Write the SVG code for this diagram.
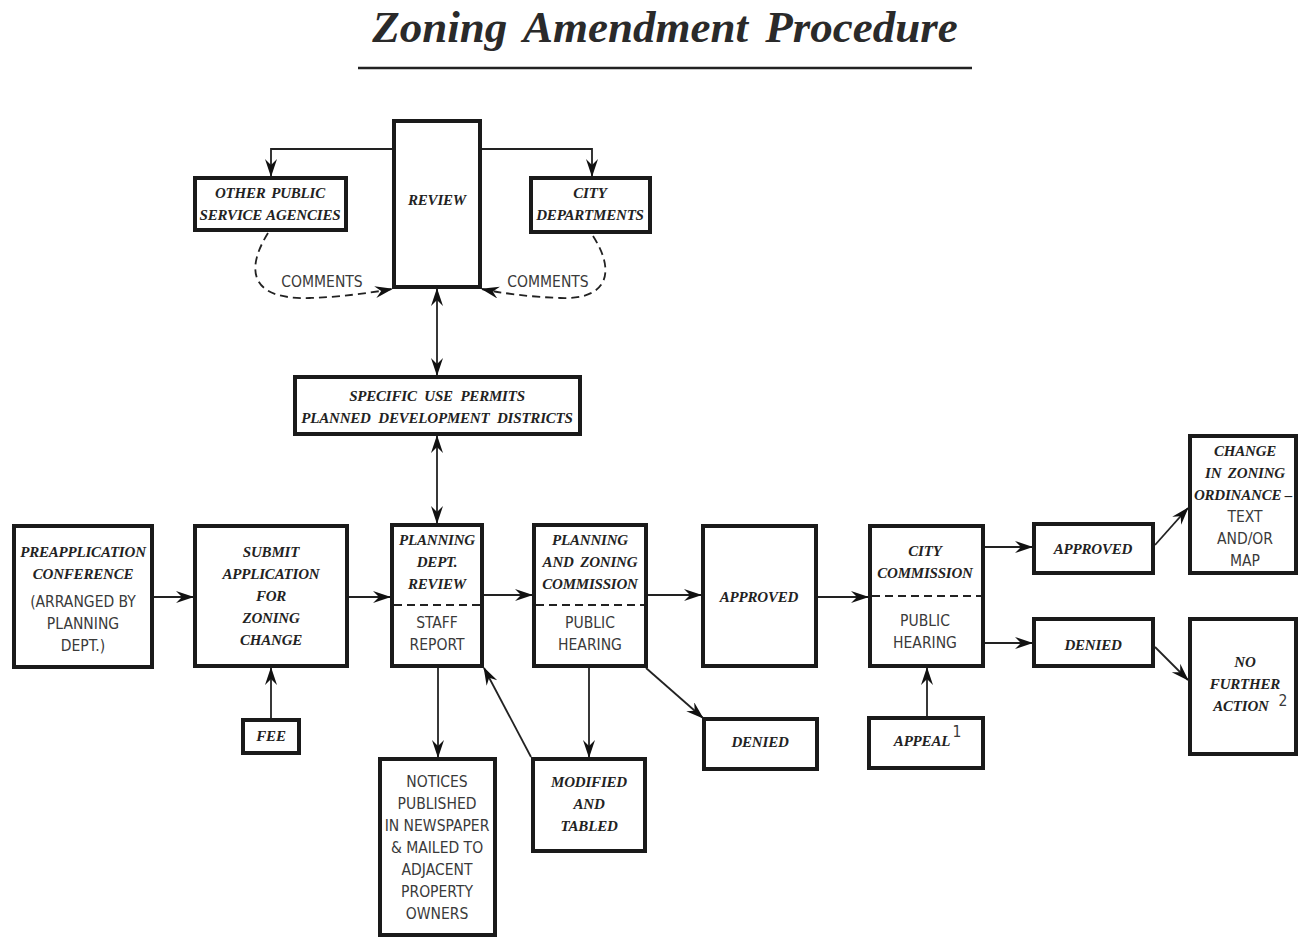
<svg xmlns="http://www.w3.org/2000/svg" width="1301" height="938" viewBox="0 0 1301 938">
<defs>
<style>
.box{fill:#fff;stroke:#1a1a1a;stroke-width:4}
.b{font-family:"Liberation Serif",serif;font-weight:bold;font-style:italic;font-size:15px;fill:#222;text-anchor:middle;letter-spacing:-0.2px}
.s{font-family:"DejaVu Sans Condensed","Liberation Sans",sans-serif;font-stretch:condensed;font-size:15.5px;fill:#3a3a3a;text-anchor:middle}
.c{fill:none;stroke:#222;stroke-width:1.8}
.d{fill:none;stroke:#222;stroke-width:1.8;stroke-dasharray:8 5}
.sep{stroke:#222;stroke-width:1.8;stroke-dasharray:8 5}
</style>
<marker id="ah" markerUnits="userSpaceOnUse" markerWidth="20" markerHeight="14" refX="17" refY="6" orient="auto-start-reverse">
<path d="M0,0 L18,6 L0,12 L6,6 Z" fill="#111"/>
</marker>
</defs>
<rect width="1301" height="938" fill="#fff"/>
<g id="title">
<text x="665" y="42" font-family="Liberation Serif,serif" font-weight="bold" font-style="italic" font-size="45" fill="#2a2a2a" text-anchor="middle" word-spacing="6">Zoning Amendment Procedure</text>
<line x1="358" y1="68" x2="972" y2="68" stroke="#222" stroke-width="2.5"/>
</g>
<g id="connectors">
<path class="c" d="M392,149 L271,149 L271,176" marker-end="url(#ah)"/>
<path class="c" d="M482,149 L592,149 L592,176" marker-end="url(#ah)"/>
<path class="d" d="M268,233 C245,270 250,300 310,298 C340,297 370,293 392,289" marker-end="url(#ah)"/>
<path class="d" d="M593,236 C615,270 610,300 560,298 C530,297 500,293 482,289" marker-end="url(#ah)"/>
<path class="c" d="M437,289 L437,375" marker-start="url(#ah)" marker-end="url(#ah)"/>
<path class="c" d="M437,436 L437,523" marker-start="url(#ah)" marker-end="url(#ah)"/>
<path class="c" d="M154,597 L193,597" marker-end="url(#ah)"/>
<path class="c" d="M271,718 L271,668" marker-end="url(#ah)"/>
<path class="c" d="M349,597 L390,597" marker-end="url(#ah)"/>
<path class="c" d="M484,595 L532,595" marker-end="url(#ah)"/>
<path class="c" d="M648,595 L701,595" marker-end="url(#ah)"/>
<path class="c" d="M818,597 L868,597" marker-end="url(#ah)"/>
<path class="c" d="M646,668 L703,718" marker-end="url(#ah)"/>
<path class="c" d="M438,668 L438,757" marker-end="url(#ah)"/>
<path class="c" d="M589,668 L589,757" marker-end="url(#ah)"/>
<path class="c" d="M531,757 L484,668" marker-end="url(#ah)"/>
<path class="c" d="M927,716 L927,668" marker-end="url(#ah)"/>
<path class="c" d="M985,547 L1032,547" marker-end="url(#ah)"/>
<path class="c" d="M985,643 L1032,643" marker-end="url(#ah)"/>
<path class="c" d="M1155,545 L1188,508" marker-end="url(#ah)"/>
<path class="c" d="M1155,647 L1188,680" marker-end="url(#ah)"/>
<text class="s" x="322" y="287" font-size="14.5">COMMENTS</text>
<text class="s" x="548" y="287" font-size="14.5">COMMENTS</text>
</g>
<g id="review">
<rect class="box" x="394" y="121" width="86" height="166"/>
<text class="b" x="437" y="205">REVIEW</text>
</g>
<g id="other-agencies">
<rect class="box" x="195" y="178" width="151" height="52"/>
<text class="b" x="270" y="198" word-spacing="2">OTHER PUBLIC</text>
<text class="b" x="270" y="220" word-spacing="1">SERVICE AGENCIES</text>
</g>
<g id="city-departments">
<rect class="box" x="531" y="178" width="119" height="54"/>
<text class="b" x="590" y="198">CITY</text>
<text class="b" x="590" y="220">DEPARTMENTS</text>
</g>
<g id="specific-use">
<rect class="box" x="295" y="377" width="285" height="57"/>
<text class="b" x="437" y="401" word-spacing="4">SPECIFIC USE PERMITS</text>
<text class="b" x="437" y="423" word-spacing="4">PLANNED DEVELOPMENT DISTRICTS</text>
</g>
<g id="preapplication">
<rect class="box" x="14" y="526" width="138" height="141"/>
<text class="b" x="83" y="557">PREAPPLICATION</text>
<text class="b" x="83" y="579">CONFERENCE</text>
<text class="s" x="83" y="607">(ARRANGED BY</text>
<text class="s" x="83" y="629">PLANNING</text>
<text class="s" x="83" y="651">DEPT.)</text>
</g>
<g id="submit">
<rect class="box" x="195" y="526" width="152" height="140"/>
<text class="b" x="271" y="557">SUBMIT</text>
<text class="b" x="271" y="579">APPLICATION</text>
<text class="b" x="271" y="601">FOR</text>
<text class="b" x="271" y="623">ZONING</text>
<text class="b" x="271" y="645">CHANGE</text>
</g>
<g id="fee">
<rect class="box" x="243" y="720" width="56" height="33"/>
<text class="b" x="271" y="741">FEE</text>
</g>
<g id="planning-dept-review">
<rect class="box" x="392" y="525" width="90" height="141"/>
<line class="sep" x1="394" y1="605" x2="480" y2="605"/>
<text class="b" x="437" y="545">PLANNING</text>
<text class="b" x="437" y="567">DEPT.</text>
<text class="b" x="437" y="589">REVIEW</text>
<text class="s" x="437" y="628">STAFF</text>
<text class="s" x="437" y="650">REPORT</text>
</g>
<g id="pz-commission">
<rect class="box" x="534" y="525" width="112" height="141"/>
<line class="sep" x1="536" y1="605" x2="644" y2="605"/>
<text class="b" x="590" y="545">PLANNING</text>
<text class="b" x="590" y="567" word-spacing="3">AND ZONING</text>
<text class="b" x="590" y="589">COMMISSION</text>
<text class="s" x="590" y="628">PUBLIC</text>
<text class="s" x="590" y="650">HEARING</text>
</g>
<g id="approved">
<rect class="box" x="703" y="526" width="113" height="140"/>
<text class="b" x="759" y="602">APPROVED</text>
</g>
<g id="denied">
<rect class="box" x="704" y="719" width="113" height="50"/>
<text class="b" x="760" y="747">DENIED</text>
</g>
<g id="city-commission">
<rect class="box" x="870" y="526" width="113" height="140"/>
<line class="sep" x1="872" y1="596" x2="981" y2="596"/>
<text class="b" x="925" y="556">CITY</text>
<text class="b" x="925" y="578">COMMISSION</text>
<text class="s" x="925" y="626">PUBLIC</text>
<text class="s" x="925" y="648">HEARING</text>
</g>
<g id="appeal">
<rect class="box" x="869" y="718" width="114" height="50"/>
<text class="b" x="922" y="746">APPEAL</text>
<text class="s" x="957" y="737" font-size="10">1</text>
</g>
<g id="cc-approved">
<rect class="box" x="1034" y="524" width="119" height="49"/>
<text class="b" x="1093" y="554">APPROVED</text>
</g>
<g id="cc-denied">
<rect class="box" x="1034" y="619" width="119" height="47"/>
<text class="b" x="1093" y="650">DENIED</text>
</g>
<g id="change-ordinance">
<rect class="box" x="1190" y="436" width="106" height="137"/>
<text class="b" x="1245" y="456">CHANGE</text>
<text class="b" x="1245" y="478" word-spacing="3">IN ZONING</text>
<text class="b" x="1243" y="500">ORDINANCE –</text>
<text class="s" x="1245" y="522">TEXT</text>
<text class="s" x="1245" y="544">AND/OR</text>
<text class="s" x="1245" y="566">MAP</text>
</g>
<g id="no-further-action">
<rect class="box" x="1190" y="619" width="106" height="135"/>
<text class="b" x="1245" y="667">NO</text>
<text class="b" x="1245" y="689">FURTHER</text>
<text class="b" x="1241" y="711">ACTION</text>
<text class="s" x="1283" y="706" font-size="14">2</text>
</g>
<g id="notices">
<rect class="box" x="380" y="759" width="115" height="176"/>
<text class="s" x="437" y="787">NOTICES</text>
<text class="s" x="437" y="809">PUBLISHED</text>
<text class="s" x="437" y="831">IN NEWSPAPER</text>
<text class="s" x="437" y="853">&amp; MAILED TO</text>
<text class="s" x="437" y="875">ADJACENT</text>
<text class="s" x="437" y="897">PROPERTY</text>
<text class="s" x="437" y="919">OWNERS</text>
</g>
<g id="modified-tabled">
<rect class="box" x="533" y="759" width="112" height="92"/>
<text class="b" x="589" y="787">MODIFIED</text>
<text class="b" x="589" y="809">AND</text>
<text class="b" x="589" y="831">TABLED</text>
</g>
</svg>
